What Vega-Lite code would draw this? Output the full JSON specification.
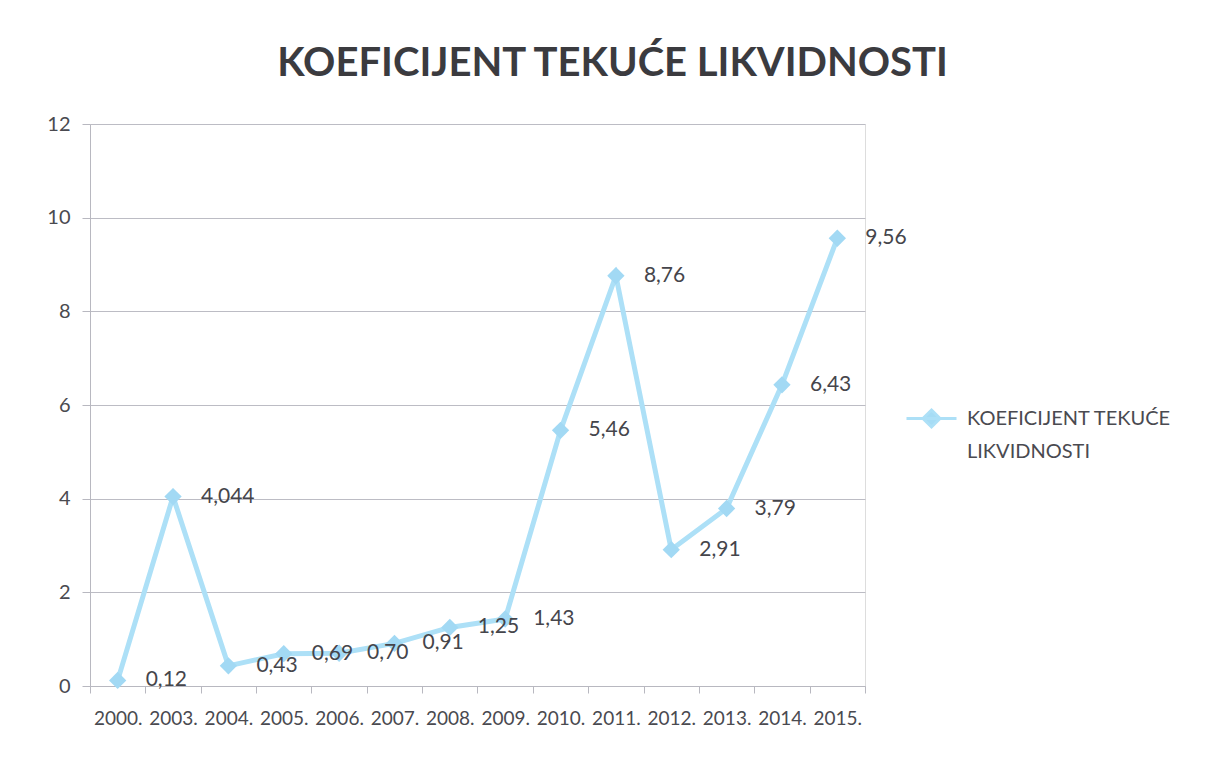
{
  "$schema": "https://vega.github.io/schema/vega-lite/v6.json",
  "autosize": {"type": "none"},
  "padding": {"left": 90, "top": 124, "right": 343, "bottom": 72},
  "width": 775,
  "height": 562,
  "background": "white",
  "title": {
    "text": "KOEFICIJENT TEKUĆE LIKVIDNOSTI",
    "font": "Lato",
    "fontSize": 40,
    "fontWeight": "bold",
    "color": "#3b3b3f",
    "anchor": "middle",
    "dx": 135,
    "offset": 30
  },
  "data": {
    "values": [
      {"year": "2000.", "value": 0.12, "label": "0,12", "series": "KOEFICIJENT TEKUĆE LIKVIDNOSTI"},
      {"year": "2003.", "value": 4.044, "label": "4,044", "series": "KOEFICIJENT TEKUĆE LIKVIDNOSTI"},
      {"year": "2004.", "value": 0.43, "label": "0,43", "series": "KOEFICIJENT TEKUĆE LIKVIDNOSTI"},
      {"year": "2005.", "value": 0.69, "label": "0,69", "series": "KOEFICIJENT TEKUĆE LIKVIDNOSTI"},
      {"year": "2006.", "value": 0.70, "label": "0,70", "series": "KOEFICIJENT TEKUĆE LIKVIDNOSTI"},
      {"year": "2007.", "value": 0.91, "label": "0,91", "series": "KOEFICIJENT TEKUĆE LIKVIDNOSTI"},
      {"year": "2008.", "value": 1.25, "label": "1,25", "series": "KOEFICIJENT TEKUĆE LIKVIDNOSTI"},
      {"year": "2009.", "value": 1.43, "label": "1,43", "series": "KOEFICIJENT TEKUĆE LIKVIDNOSTI"},
      {"year": "2010.", "value": 5.46, "label": "5,46", "series": "KOEFICIJENT TEKUĆE LIKVIDNOSTI"},
      {"year": "2011.", "value": 8.76, "label": "8,76", "series": "KOEFICIJENT TEKUĆE LIKVIDNOSTI"},
      {"year": "2012.", "value": 2.91, "label": "2,91", "series": "KOEFICIJENT TEKUĆE LIKVIDNOSTI"},
      {"year": "2013.", "value": 3.79, "label": "3,79", "series": "KOEFICIJENT TEKUĆE LIKVIDNOSTI"},
      {"year": "2014.", "value": 6.43, "label": "6,43", "series": "KOEFICIJENT TEKUĆE LIKVIDNOSTI"},
      {"year": "2015.", "value": 9.56, "label": "9,56", "series": "KOEFICIJENT TEKUĆE LIKVIDNOSTI"}
    ]
  },
  "encoding": {
    "x": {
      "field": "year",
      "type": "ordinal",
      "sort": null,
      "bandPosition": 0.5,
      "scale": {"type": "band", "paddingInner": 0, "paddingOuter": 0},
      "axis": {
        "title": null,
        "labelAngle": 0,
        "labelOverlap": false,
        "labelFont": "Lato",
        "labelFontSize": 19,
        "labelColor": "#4a4a50",
        "labelPadding": 16,
        "tickBand": "extent",
        "tickSize": 7,
        "tickColor": "#b8b8c0",
        "domainColor": "#b8b8c0",
        "grid": false
      }
    },
    "y": {
      "field": "value",
      "type": "quantitative",
      "scale": {"domain": [0, 12], "nice": false},
      "axis": {
        "title": null,
        "values": [0, 2, 4, 6, 8, 10, 12],
        "labelFont": "Lato",
        "labelFontSize": 20,
        "labelColor": "#4a4a50",
        "labelPadding": 12,
        "tickSize": 8,
        "tickColor": "#b8b8c0",
        "domainColor": "#b8b8c0",
        "grid": true,
        "gridColor": "#bcbcc4"
      }
    }
  },
  "layer": [
    {
      "mark": {"type": "line", "strokeWidth": 5, "color": "#ade0f7"},
      "encoding": {
        "color": {
          "field": "series",
          "type": "nominal",
          "scale": {"range": ["#ade0f7"]},
          "legend": {
            "title": null,
            "orient": "none",
            "legendX": 815,
            "legendY": 268,
            "symbolType": "M-1,0L1,0M0,-0.34L0.34,0L0,0.34L-0.34,0Z",
            "symbolSize": 2500,
            "symbolStrokeWidth": 3,
            "symbolFillColor": "#a6dcf5",
            "symbolStrokeColor": "#ade0f7",
            "labelFont": "Lato",
            "labelFontSize": 20,
            "labelColor": "#4a4a50",
            "labelOffset": 9,
            "labelLimit": 400,
            "labelExpr": "['KOEFICIJENT TEKUĆE', 'LIKVIDNOSTI']",
            "encode": {"labels": {"update": {"lineHeight": {"value": 33}}}}
          }
        }
      }
    },
    {
      "mark": {"type": "point", "shape": "diamond", "filled": true, "size": 300, "color": "#a2d9f4", "opacity": 1}
    },
    {
      "mark": {"type": "text", "align": "left", "baseline": "middle", "dx": 28, "font": "Lato", "fontSize": 21, "color": "#45454b"},
      "encoding": {"text": {"field": "label"}}
    }
  ]
}
